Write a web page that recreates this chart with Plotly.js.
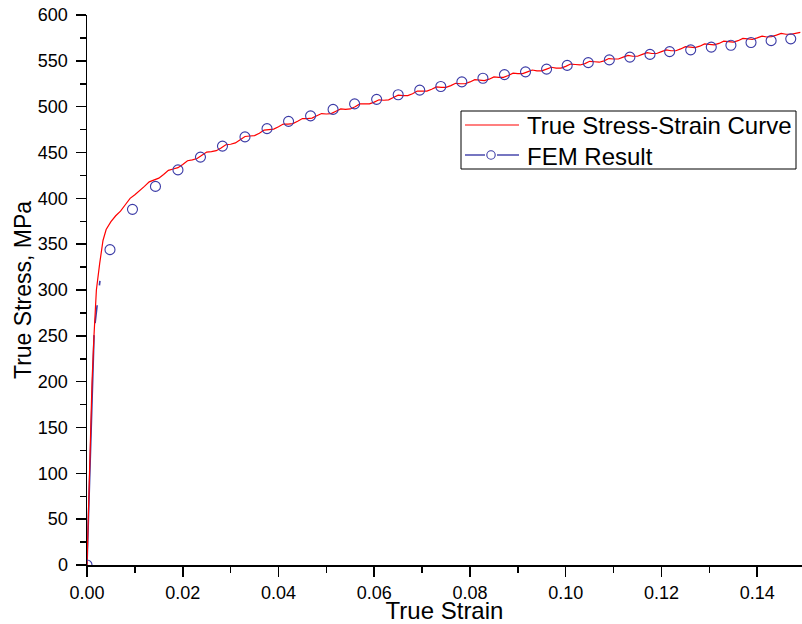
<!DOCTYPE html>
<html>
<head>
<meta charset="utf-8">
<script src="https://cdn.plot.ly/plotly-3.0.1.min.js"></script>
<style>
  html, body { margin: 0; padding: 0; background: #ffffff; }
  #chart { width: 802px; height: 624px; }
</style>
</head>
<body>
<div id="chart"></div>
<script>
// Measured true stress-strain curve (strain, stress in MPa)
const testStrain = [
  0, 0.0004, 0.0007, 0.00105, 0.00146, 0.00196, 0.00265, 0.00334,
  0.0040, 0.0050, 0.0060, 0.0070, 0.0080, 0.0090, 0.0100, 0.0110, 0.0120, 0.0130,
  0.0140, 0.0150, 0.0160, 0.0170, 0.0180, 0.0190, 0.0200, 0.0210, 0.0220, 0.0230,
  0.0240, 0.0250, 0.0260, 0.0270, 0.0280, 0.0290, 0.0300, 0.0310, 0.0320, 0.0330,
  0.0340, 0.0350, 0.0360, 0.0370, 0.0380, 0.0390, 0.0400, 0.0410, 0.0420, 0.0430,
  0.0440, 0.0450, 0.0460, 0.0470, 0.0480, 0.0490, 0.0500, 0.0510, 0.0520, 0.0530,
  0.0540, 0.0550, 0.0560, 0.0570, 0.0580, 0.0590, 0.0600, 0.0610, 0.0620, 0.0630,
  0.0640, 0.0650, 0.0660, 0.0670, 0.0680, 0.0690, 0.0700, 0.0710, 0.0720, 0.0730,
  0.0740, 0.0750, 0.0760, 0.0770, 0.0780, 0.0790, 0.0800, 0.0810, 0.0820, 0.0830,
  0.0840, 0.0850, 0.0860, 0.0870, 0.0880, 0.0890, 0.0900, 0.0910, 0.0920, 0.0930,
  0.0940, 0.0950, 0.0960, 0.0970, 0.0980, 0.0990, 0.1000, 0.1010, 0.1020, 0.1030,
  0.1040, 0.1050, 0.1060, 0.1070, 0.1080, 0.1090, 0.1100, 0.1110, 0.1120, 0.1130,
  0.1140, 0.1150, 0.1160, 0.1170, 0.1180, 0.1190, 0.1200, 0.1210, 0.1220, 0.1230,
  0.1240, 0.1250, 0.1260, 0.1270, 0.1280, 0.1290, 0.1300, 0.1310, 0.1320, 0.1330,
  0.1340, 0.1350, 0.1360, 0.1370, 0.1380, 0.1390, 0.1400, 0.1410, 0.1420, 0.1430,
  0.1440, 0.1450, 0.1460, 0.1470, 0.1480, 0.1490
];
const testStress = [
  0, 85, 150, 200, 250, 300, 329, 354,
  366, 374.5, 381, 386, 393, 400, 404, 408, 413, 418,
  420, 422, 426, 430.5, 432, 433.5, 437, 441, 442, 443.5,
  447, 450.5, 451, 452, 455, 458.5, 459, 460.5, 464, 467.5,
  468, 468.5, 471, 474.5, 475, 475.5, 478, 481, 481, 481.5,
  484, 487, 487, 487.5, 490, 492.5, 492, 492.5, 495, 497.5,
  497, 497.5, 500, 503, 503, 503, 505, 507.5, 507, 507.5,
  510, 512.5, 512, 512, 514, 517, 517, 517, 519, 521.5,
  521, 521, 523, 525.5, 525, 525, 527, 529.5, 529, 528.5,
  530, 532.5, 532, 532, 534, 536.5, 536, 536, 538, 540,
  539, 539, 541, 543, 542, 542, 544, 546.5, 546, 545.5,
  547, 549.5, 549, 548.5, 550, 552.5, 552, 552, 554, 556,
  555, 555, 557, 559, 558, 558, 560, 562, 561, 561,
  563, 565.5, 565, 564.5, 566, 568.5, 568, 567.5, 569, 571.5,
  571, 570.5, 572, 574.5, 574, 573.5, 575, 577, 576, 576.5,
  578, 580, 579, 579, 580, 581
];

// FEM prediction, sampled output points
const femStrain = [
  0, 0.0048, 0.0095, 0.0143, 0.0190, 0.0237, 0.0283, 0.0330, 0.0376, 0.0421,
  0.0467, 0.0514, 0.0559, 0.0605, 0.0650, 0.0695, 0.0739, 0.0783, 0.0827, 0.0872,
  0.0916, 0.0960, 0.1003, 0.1047, 0.1091, 0.1134, 0.1176, 0.1217, 0.1261, 0.1304,
  0.1345, 0.1387, 0.1429, 0.1470
];
const femStress = [
  0, 344, 388, 413, 431, 445, 457, 467, 476, 484,
  490, 497, 503, 508, 513, 518, 522, 527, 531, 535,
  538, 541, 545, 548, 551, 554, 557, 560, 562, 565,
  567, 570, 572, 574
];

// FEM elastic branch
const femLineStrain = [0, 0.0015, 0.0027];
const femLineStress = [0, 255, 310];

const seriesNames = ['True Stress-Strain Curve', 'FEM Result'];

const RED = '#ff0000';
const BLUE = '#3b3ba6';
const FONT = 'Liberation Sans, Arial, sans-serif';

// page geometry
const W = 802, H = 624;
const M = { l: 87, r: 0, t: 15, b: 59 };
const plotW = W - M.l - M.r, plotH = H - M.t - M.b;
// pixel position -> paper coordinate (for the framed key box)
const px = v => (v - M.l) / plotW;
const py = v => (H - M.b - v) / plotH;

const traces = [
  {
    x: femLineStrain, y: femLineStress,
    type: 'scatter', mode: 'lines',
    line: { color: BLUE, width: 1.6, dash: '230px,12px,18px,20px,8px,60px' },
    hoverinfo: 'skip'
  },
  {
    x: testStrain, y: testStress,
    type: 'scatter', mode: 'lines',
    name: seriesNames[0],
    line: { color: RED, width: 1.2 }
  },
  {
    x: femStrain, y: femStress,
    type: 'scatter', mode: 'markers',
    name: seriesNames[1],
    marker: { symbol: 'circle-open', size: 10, color: BLUE, line: { width: 1.1, color: BLUE } }
  }
];

const axisCommon = {
  showline: true, linecolor: '#000', linewidth: 1.5,
  ticks: 'outside', ticklen: 10, tickwidth: 1.5, tickcolor: '#000',
  showgrid: false, zeroline: false, mirror: false,
  tickfont: { family: FONT, size: 18, color: '#000' },
  automargin: false
};

// framed key: box, line samples and marker sample
const keyShapes = [
  { type: 'rect', xref: 'paper', yref: 'paper',
    x0: px(461), x1: px(796), y0: py(169), y1: py(111),
    line: { color: '#000', width: 1 }, fillcolor: '#ffffff', layer: 'above' },
  { type: 'line', xref: 'paper', yref: 'paper',
    x0: px(465), x1: px(519), y0: py(125), y1: py(125),
    line: { color: RED, width: 1.2 }, layer: 'above' },
  { type: 'line', xref: 'paper', yref: 'paper',
    x0: px(465), x1: px(485), y0: py(155), y1: py(155),
    line: { color: BLUE, width: 1.4 }, layer: 'above' },
  { type: 'line', xref: 'paper', yref: 'paper',
    x0: px(497), x1: px(519), y0: py(155), y1: py(155),
    line: { color: BLUE, width: 1.4 }, layer: 'above' },
  { type: 'circle', xref: 'paper', yref: 'paper',
    x0: px(486.8), x1: px(495.2), y0: py(159.2), y1: py(150.8),
    line: { color: BLUE, width: 1.1 }, fillcolor: 'rgba(0,0,0,0)', layer: 'above' }
];

const keyLabels = seriesNames.map((name, i) => ({
  text: name, xref: 'paper', yref: 'paper',
  x: px(525), y: py(i === 0 ? 126 : 156),
  xanchor: 'left', yanchor: 'middle', showarrow: false,
  font: { family: FONT, size: 24, color: '#000' }
}));

const layout = {
  width: W, height: H,
  margin: M,
  paper_bgcolor: '#ffffff', plot_bgcolor: '#ffffff',
  font: { family: FONT, color: '#000' },
  showlegend: false,
  xaxis: Object.assign({}, axisCommon, {
    range: [0, 0.14935],
    tickvals: [0, 0.02, 0.04, 0.06, 0.08, 0.10, 0.12, 0.14],
    ticktext: ['0.00', '0.02', '0.04', '0.06', '0.08', '0.10', '0.12', '0.14'],
    minor: { dtick: 0.01, ticklen: 6, tickwidth: 1.5, tickcolor: '#000', ticks: 'outside' },
    ticklabelstandoff: 1,
    title: { text: 'True Strain', font: { family: FONT, size: 24, color: '#000' }, standoff: 2 }
  }),
  yaxis: Object.assign({}, axisCommon, {
    range: [0, 600],
    dtick: 50, tick0: 0,
    minor: { dtick: 25, ticklen: 6, tickwidth: 1.5, tickcolor: '#000', ticks: 'outside' },
    ticklabelstandoff: 4,
    title: { text: 'True Stress, MPa', font: { family: FONT, size: 23, color: '#000' }, standoff: 0 }
  }),
  shapes: keyShapes,
  annotations: keyLabels
};

Plotly.newPlot('chart', traces, layout, { displayModeBar: false, staticPlot: true });
</script>
</body>
</html>
